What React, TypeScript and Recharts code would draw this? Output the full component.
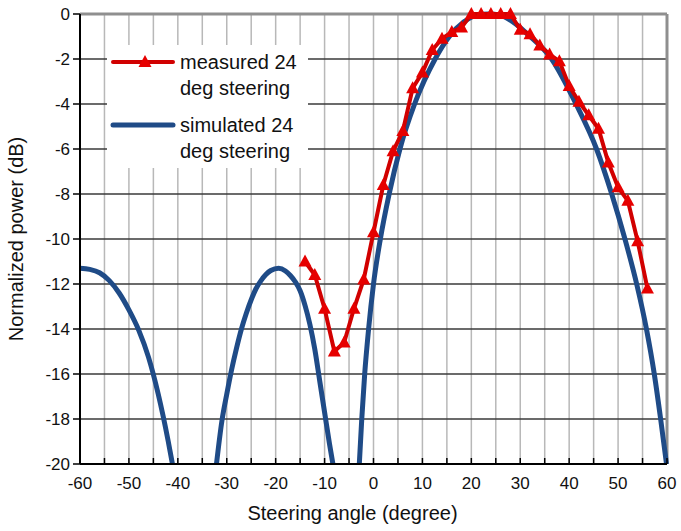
import { LineChart, Line, XAxis, YAxis, CartesianGrid, Legend, ReferenceLine } from 'recharts';

// x ticks every 5 deg (grid), labels only every 10
const xTicks = [-60, -55, -50, -45, -40, -35, -30, -25, -20, -15, -10, -5, 0, 5, 10, 15, 20, 25, 30, 35, 40, 45, 50, 55, 60];
const yTicks = [-20, -18, -16, -14, -12, -10, -8, -6, -4, -2, 0];

const measuredAngle = [-14, -12, -10, -8, -6, -4, -2, 0, 2, 4, 6, 8, 10, 12, 14, 16, 18, 20, 22, 24, 26, 28, 30, 32, 34, 36, 38, 40, 42, 44, 46, 48, 50, 52, 54, 56];
const measuredPower = [-11.0, -11.6, -13.1, -15.0, -14.6, -13.1, -11.8, -9.7, -7.6, -6.1, -5.2, -3.3, -2.6, -1.6, -1.1, -0.8, -0.6, 0, 0, 0, 0, 0, -0.7, -0.9, -1.4, -1.8, -2.1, -3.2, -3.9, -4.5, -5.1, -6.6, -7.7, -8.3, -10.1, -12.2];

// simulated, 24 deg steering; null = below the -20 dB floor (gap)
const simulatedAngle = [
    -60, -58, -56, -54, -52, -50, -48, -46, -44, -42, -41.1,
    -37,
    -32.1, -31, -30, -29, -28, -27, -26, -25, -24, -23, -22, -21, -19.4, -18, -17, -16, -15, -14, -13, -12, -11, -10, -9, -8.3,
    -5.5,
    -2.9, -2.4, -1.8, -1, 0, 1.4, 3.2, 5.4, 8.4, 12.6, 15.5, 18.5, 21, 23.5, 26, 28.5, 31.5, 36.4, 41.4, 45.6, 48.7, 51.4, 53.8, 55.8, 57.4, 58.7, 59.9,
];
const simulatedPower = [
    -11.3, -11.35, -11.5, -11.85, -12.4, -13.15, -14.05, -15.25, -16.9, -18.95, -20,
    null,
    -20, -18.1, -16.9, -15.8, -14.85, -14.0, -13.3, -12.7, -12.2, -11.85, -11.58, -11.4, -11.3, -11.42, -11.62, -11.9, -12.3, -12.95, -13.8, -14.9, -16.3, -17.7, -19.1, -20,
    null,
    -20, -18, -16, -14, -12, -10, -8, -6, -4, -2, -1.0, -0.35, -0.06, 0, -0.06, -0.35, -0.9, -2, -4, -6, -8, -10, -12, -14, -16, -18, -20,
];

const measured = measuredAngle.map((a, i) => ({ angle: a, power: measuredPower[i] }));
const simulated = simulatedAngle.map((a, i) => ({ angle: a, power: simulatedPower[i] }));

const RED = '#d10000';
const BLUE = '#1f4b87';
const FONT = 'Arial, "Liberation Sans", sans-serif';

const Triangle = (props: any) => {
    const { cx, cy, index } = props;
    if (cx == null || cy == null) return <g key={index} />;
    return <polygon key={index} points={`${cx},${cy - 7} ${cx - 6.5},${cy + 5} ${cx + 6.5},${cy + 5}`} fill="#e60000" />;
};

const XTick = ({ x, y, payload }: any) => (
    <g>
        <line x1={x} y1={y} x2={x} y2={y - 6} stroke="#000" strokeWidth={1.5} />
        {payload.value % 10 === 0 && (
            <text x={x} y={y + 25} textAnchor="middle" fontSize={17} fontFamily={FONT} fill="#111">
                {payload.value}
            </text>
        )}
    </g>
);

const LegendBox = () => (
    <div style={{ position: 'relative', width: 201, height: 123, background: '#fff', fontFamily: FONT, fontSize: 20, color: '#111' }}>
        <svg width={70} height={123} style={{ position: 'absolute', left: 0, top: 0 }}>
            <line x1={6} y1={17} x2={66} y2={17} stroke={RED} strokeWidth={4} strokeLinecap="round" />
            <polygon points="38,10 31.5,22 44.5,22" fill="#e60000" />
            <line x1={6} y1={80} x2={66} y2={80} stroke={BLUE} strokeWidth={5} strokeLinecap="round" />
        </svg>
        <div style={{ position: 'absolute', left: 73, top: 4, lineHeight: '26px' }}>
            measured 24<br />deg steering
        </div>
        <div style={{ position: 'absolute', left: 73, top: 67, lineHeight: '26px' }}>
            simulated 24<br />deg steering
        </div>
    </div>
);

export default function App() {
    return (
        <div style={{ position: 'absolute', left: 0, top: 0, background: '#fff' }}>
            <LineChart width={681} height={531} margin={{ top: 14, right: 14, left: 0, bottom: 0 }}>
                <CartesianGrid horizontal={false} stroke="#b8b8b8" strokeWidth={1.5} />
                <CartesianGrid vertical={false} stroke="#3a3a3a" strokeWidth={1.5} />
                <XAxis
                    type="number"
                    dataKey="angle"
                    domain={[-60, 60]}
                    ticks={xTicks}
                    interval={0}
                    height={67}
                    tickSize={0}
                    tickMargin={0}
                    tick={<XTick />}
                    axisLine={{ stroke: '#000', strokeWidth: 2 }}
                    label={{ value: 'Steering angle (degree)', position: 'insideBottom', offset: 11, dx: -21, fontSize: 20, fontFamily: FONT, fill: '#111' }}
                />
                <YAxis
                    type="number"
                    domain={[-20, 0]}
                    ticks={yTicks}
                    interval={0}
                    width={80}
                    tickSize={7}
                    tickMargin={3}
                    tick={{ fontSize: 17, fontFamily: FONT, fill: '#111' }}
                    tickLine={{ stroke: '#000', strokeWidth: 1.5 }}
                    axisLine={{ stroke: '#000', strokeWidth: 2 }}
                    label={{ value: 'Normalized power (dB)', angle: -90, position: 'insideLeft', offset: 16, style: { textAnchor: 'middle' }, fontSize: 20, fontFamily: FONT, fill: '#111' }}
                />
                <ReferenceLine y={0} stroke="#8f8f8f" strokeWidth={3} />
                <ReferenceLine x={60} stroke="#8f8f8f" strokeWidth={3} />
                <Legend
                    verticalAlign="middle"
                    layout="horizontal"
                    content={<LegendBox />}
                    wrapperStyle={{ left: 107, top: 45, width: 201, height: 123 }}
                />
                <Line
                    data={simulated}
                    dataKey="power"
                    type="monotone"
                    stroke={BLUE}
                    strokeWidth={5}
                    dot={false}
                    activeDot={false}
                    isAnimationActive={false}
                />
                <Line
                    data={measured}
                    dataKey="power"
                    type="linear"
                    stroke={RED}
                    strokeWidth={4}
                    dot={Triangle}
                    activeDot={false}
                    isAnimationActive={false}
                />
            </LineChart>
        </div>
    );
}
